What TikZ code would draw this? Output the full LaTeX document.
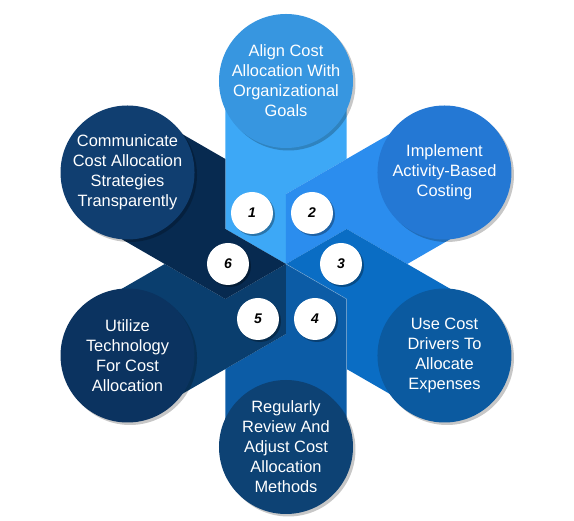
\documentclass[tikz,border=0pt]{standalone}
\usepackage{fontspec}
\setmainfont{Liberation Sans}
\usetikzlibrary{calc,shadows}
\definecolor{bandA}{HTML}{3DA8F6}
\definecolor{bandB}{HTML}{2B8DEE}
\definecolor{bandC}{HTML}{0A6DC4}
\definecolor{bandD}{HTML}{0C5CA6}
\definecolor{bandE}{HTML}{0A3E6E}
\definecolor{bandF}{HTML}{072A50}
\definecolor{circA}{HTML}{3796E0}
\definecolor{circB}{HTML}{2478D4}
\definecolor{circC}{HTML}{0B5AA0}
\definecolor{circD}{HTML}{0D4274}
\definecolor{circE}{HTML}{0B3360}
\definecolor{circF}{HTML}{103E70}
\tikzset{
  bigcircle/.style={circle, minimum size=134pt, inner sep=0pt, text=white, align=center,
    font=\fontsize{16.4}{20}\selectfont,
    drop shadow={shadow xshift=2.5pt, shadow yshift=-2.5pt, opacity=0.22, fill=black}},
  numcircle/.style={circle, fill=white, minimum size=42pt, inner sep=0pt, text=black,
    font=\fontsize{14}{14}\selectfont\bfseries\itshape,
    drop shadow={shadow xshift=2pt, shadow yshift=-2pt, opacity=0.3, fill=black}},
  edgeline/.style={white, opacity=0.3, line width=0.6pt}
}
\begin{document}
\begin{tikzpicture}[x=1pt,y=1pt]
\useasboundingbox (-286,-257) rectangle (288,264);
\fill[white] (-286,-257) rectangle (288,264);
\coordinate (c) at (0,0);
\foreach \t/\c in {90/bandA,30/bandB,-30/bandC,-90/bandD,-150/bandE,150/bandF}{
  \fill[\c] (c) -- (\t+60:70) -- ++(\t:148) -- ($(\t-60:70)+(\t:148)$)
     -- ($(\t-60:70)+(\t:70)$) -- (\t:70) -- cycle;
}
\draw[edgeline] (c) -- (-30:70) -- ++(0,-70);
\node[bigcircle, fill=circA] (g1) at (90:183) {Align Cost\\Allocation With\\Organizational\\Goals};
\node[bigcircle, fill=circB] (g2) at (30:183) {Implement\\Activity-Based\\Costing};
\node[bigcircle, fill=circC] (g3) at (-30:183) {Use Cost\\Drivers To\\Allocate\\Expenses};
\node[bigcircle, fill=circD] (g4) at (-90:183) {Regularly\\Review And\\Adjust Cost\\Allocation\\Methods};
\node[bigcircle, fill=circE] (g5) at (-150:183) {Utilize\\Technology\\For Cost\\Allocation};
\node[bigcircle, fill=circF] (g6) at (150:183) {Communicate\\Cost Allocation\\Strategies\\Transparently};
\node[numcircle] (n1) at (-34,51) {1};
\node[numcircle] (n2) at (26,51) {2};
\node[numcircle] (n3) at (55,0) {3};
\node[numcircle] (n4) at (29,-55) {4};
\node[numcircle] (n5) at (-28,-55) {5};
\node[numcircle] (n6) at (-58,0) {6};
\end{tikzpicture}
\end{document}
